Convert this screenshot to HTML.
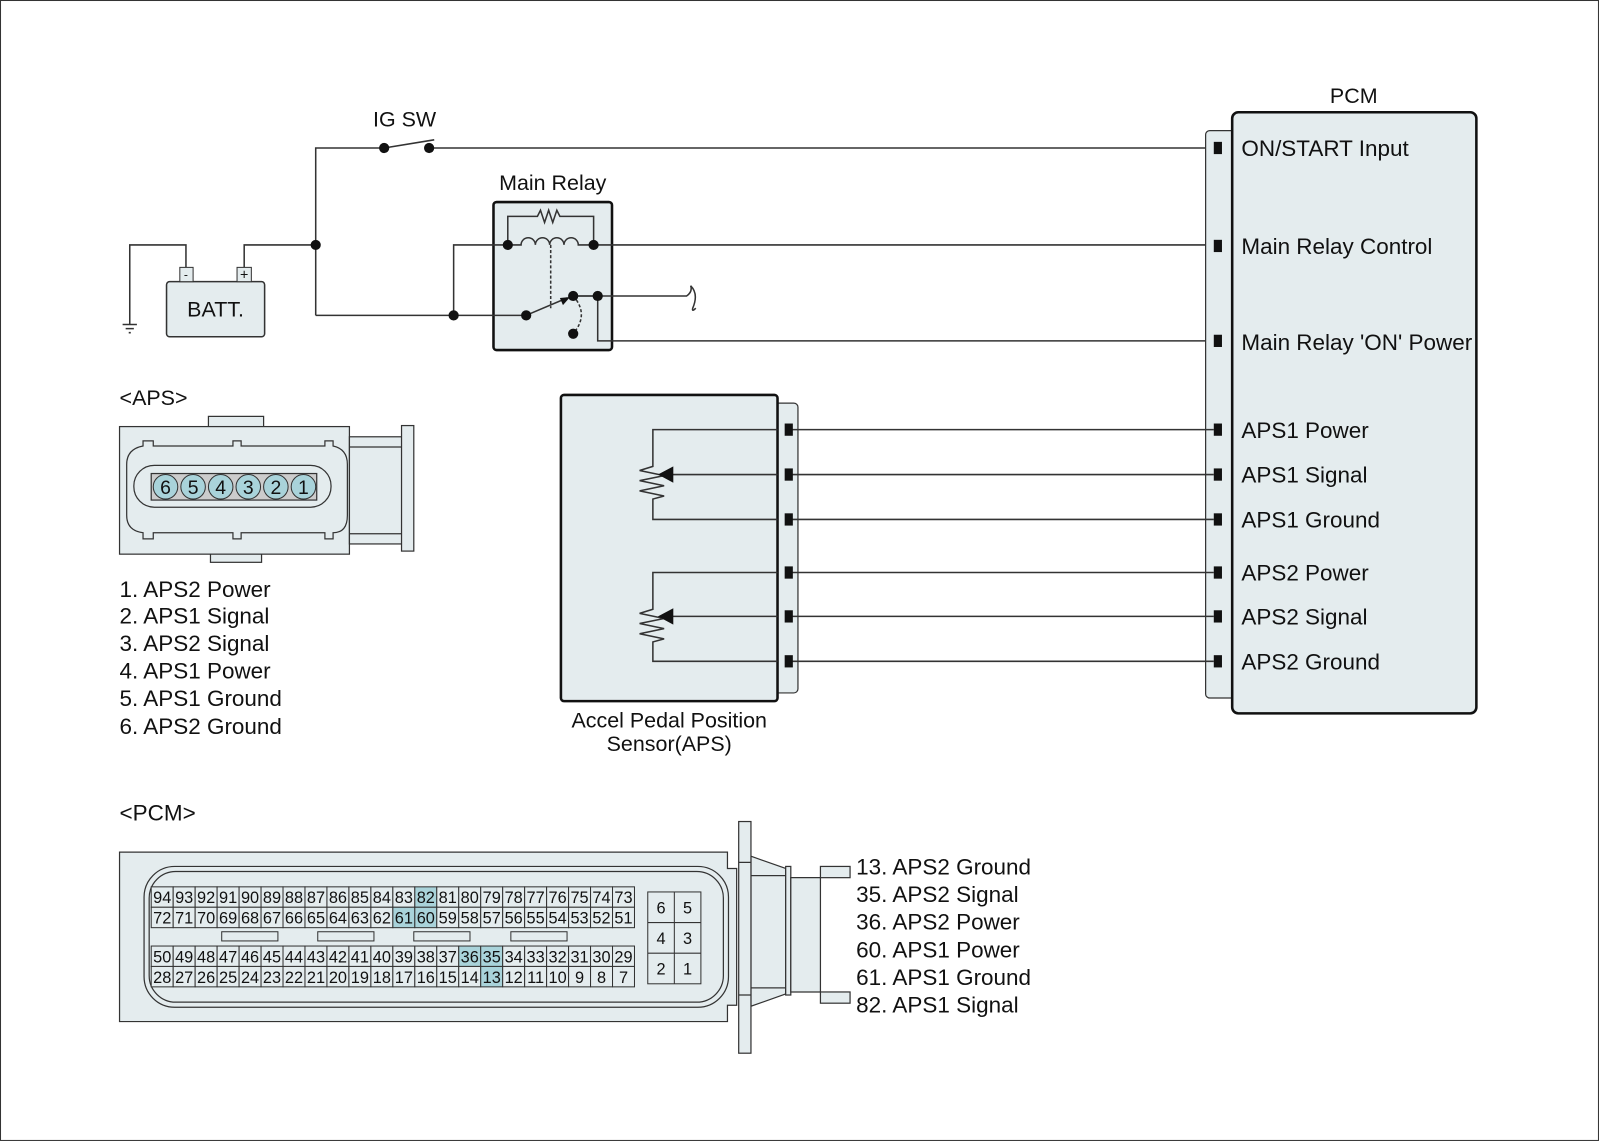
<!DOCTYPE html>
<html><head><meta charset="utf-8"><style>html,body{margin:0;padding:0;background:#fff}svg{display:block}text{font-family:"Liberation Sans",Arial,Helvetica,sans-serif;fill:#111}</style></head><body>
<svg width="1600" height="1143" viewBox="0 0 1566 1120" preserveAspectRatio="none" xmlns="http://www.w3.org/2000/svg">
<rect x="0.5" y="0.5" width="1564" height="1117" fill="#fff" stroke="#333" stroke-width="1"/>
<rect x="483" y="198" width="116" height="145" rx="3" fill="#e4ecee" stroke="#111" stroke-width="2.5"/>
<g stroke="#333" stroke-width="1.5" fill="none">
<path d="M309 309 V145 H376"/>
<path d="M420 145 H1188"/>
<path d="M376 145 L425 137"/>
<path d="M239 262 V240 H309"/>
<path d="M182 262 V240 H127 V318"/>
<path d="M120 318 H134 M123 322 H131 M126 326 H128"/>
<path d="M309 309 H515"/>
<path d="M444 309 V240 H497"/>
<path d="M581 240 H1188"/>
<path d="M561 290 H672 q6 -4 4 -10 q8 8 2 22 q-1 4 3 0"/>
<path d="M585 290 V334 H1188"/>
</g>
<rect x="163" y="276" width="96" height="54" rx="3" fill="#e4ecee" stroke="#333" stroke-width="1.5"/>
<rect x="176" y="262" width="13" height="14" fill="#e4ecee" stroke="#333"/>
<rect x="232" y="262" width="14" height="14" fill="#e4ecee" stroke="#333"/>
<text x="182" y="273" font-size="12" text-anchor="middle">-</text>
<text x="239" y="274" font-size="14" text-anchor="middle">+</text>
<text x="211" y="310" font-size="21" text-anchor="middle">BATT.</text>
<text x="396" y="124" font-size="21" text-anchor="middle">IG SW</text>
<text x="541" y="186" font-size="21" text-anchor="middle">Main Relay</text>
<g stroke="#333" stroke-width="1.5" fill="none">
<path d="M497 240 V212 H526 l3 -6 l4 12 l4 -12 l4 12 l4 -12 l3 6 H581 V240"/>
<path d="M497 240 H510 a7 7 0 0 1 14 0 a7 7 0 0 1 14 0 a7 7 0 0 1 14 0 a7 7 0 0 1 14 0 H581"/>
<path d="M539 240 V302" stroke-dasharray="3,2"/>
<path d="M561 290 q16 18 0 37" stroke-dasharray="3,2"/>
<path d="M561 290 H585"/>
<path d="M515 309 L555 292"/>
</g>
<path d="M558 291 L548 292 L551 299 Z" fill="#111"/>
<g fill="#111">
<circle cx="309" cy="240" r="5"/><circle cx="444" cy="309" r="5"/><circle cx="376" cy="145" r="5"/><circle cx="420" cy="145" r="5"/>
<circle cx="497" cy="240" r="5"/><circle cx="581" cy="240" r="5"/><circle cx="515" cy="309" r="5"/><circle cx="561" cy="290" r="5"/><circle cx="585" cy="290" r="5"/><circle cx="561" cy="327" r="5"/>
</g>
<text x="1325" y="101" font-size="21" text-anchor="middle">PCM</text>
<rect x="1180" y="128" width="30" height="556" rx="4" fill="#e4ecee" stroke="#333" stroke-width="1.2"/>
<rect x="1206" y="110" width="239" height="589" rx="6" fill="#e4ecee" stroke="#111" stroke-width="2.5"/>
<g font-size="22">
<text x="1215" y="153">ON/START Input</text>
<text x="1215" y="249">Main Relay Control</text>
<text x="1215" y="343">Main Relay 'ON' Power</text>
<text x="1215" y="429">APS1 Power</text>
<text x="1215" y="473">APS1 Signal</text>
<text x="1215" y="517">APS1 Ground</text>
<text x="1215" y="569">APS2 Power</text>
<text x="1215" y="612">APS2 Signal</text>
<text x="1215" y="656">APS2 Ground</text>
</g>
<rect x="757" y="395" width="24" height="284" rx="4" fill="#e4ecee" stroke="#333" stroke-width="1.2"/>
<rect x="549" y="387" width="212" height="300" rx="3" fill="#e4ecee" stroke="#111" stroke-width="2.5"/>
<g stroke="#333" stroke-width="1.5" fill="none">
<path d="M772 421 H1188 M772 465 H1188 M772 509 H1188 M772 561 H1188 M772 604 H1188 M772 648 H1188"/>
<path d="M761 421 H639 V457 l-13 4 l24 5 l-24 5 l24 5 l-24 5 l24 5 l-11 3 V509 H761"/>
<path d="M761 465 H658"/>
<path d="M761 561 H639 V597 l-13 4 l24 5 l-24 5 l24 5 l-24 5 l24 5 l-11 3 V648 H761"/>
<path d="M761 604 H658"/>
</g>
<path d="M644 465 L659 457 V473 Z M644 604 L659 596 V612 Z" fill="#111"/>
<g fill="#111">
<rect x="768" y="415" width="8" height="12"/><rect x="768" y="459" width="8" height="12"/><rect x="768" y="503" width="8" height="12"/><rect x="768" y="555" width="8" height="12"/><rect x="768" y="598" width="8" height="12"/><rect x="768" y="642" width="8" height="12"/>
<rect x="1188" y="139" width="8" height="12"/><rect x="1188" y="235" width="8" height="12"/><rect x="1188" y="328" width="8" height="12"/><rect x="1188" y="415" width="8" height="12"/><rect x="1188" y="459" width="8" height="12"/><rect x="1188" y="503" width="8" height="12"/><rect x="1188" y="555" width="8" height="12"/><rect x="1188" y="598" width="8" height="12"/><rect x="1188" y="642" width="8" height="12"/>
</g>
<text x="655" y="713" font-size="21" text-anchor="middle">Accel Pedal Position</text>
<text x="655" y="736" font-size="21" text-anchor="middle">Sensor(APS)</text>
<text x="117" y="397" font-size="21">&lt;APS&gt;</text>
<g fill="#e4ecee" stroke="#333" stroke-width="1.2">
<rect x="204" y="408" width="54" height="12"/>
<rect x="206" y="541" width="50" height="10"/>
<rect x="117" y="418" width="225" height="125"/>
<rect x="342" y="428" width="52" height="105"/>
<rect x="393" y="417" width="12" height="123"/>
<path d="M342 438 H393 M342 523 H393"/>
<path d="M140 432 H150 V437 H228 V432 H236 V437 H318 V432 H326 V437 Q340 440 340 455 V505 Q340 522 326 522 V528 H318 V522 H236 V528 H228 V522 H150 V528 H140 V522 Q124 520 124 505 V455 Q124 440 140 437 Z" fill="none"/>
<rect x="131" y="456" width="193" height="41" rx="20" fill="none"/>
<rect x="148" y="464" width="162" height="26" fill="#ccc"/>
</g>
<g fill="#a9d3da" stroke="#333" stroke-width="1">
<circle cx="162" cy="477" r="12"/><circle cx="189" cy="477" r="12"/><circle cx="216" cy="477" r="12"/><circle cx="243" cy="477" r="12"/><circle cx="270" cy="477" r="12"/><circle cx="297" cy="477" r="12"/>
</g>
<g font-size="19" text-anchor="middle">
<text x="162" y="484">6</text><text x="189" y="484">5</text><text x="216" y="484">4</text><text x="243" y="484">3</text><text x="270" y="484">2</text><text x="297" y="484">1</text>
</g>
<g font-size="22">
<text x="117" y="585">1. APS2 Power</text>
<text x="117" y="611">2. APS1 Signal</text>
<text x="117" y="638">3. APS2 Signal</text>
<text x="117" y="665">4. APS1 Power</text>
<text x="117" y="692">5. APS1 Ground</text>
<text x="117" y="719">6. APS2 Ground</text>
<text x="117" y="804">&lt;PCM&gt;</text>
<text x="838" y="857">13. APS2 Ground</text>
<text x="838" y="884">35. APS2 Signal</text>
<text x="838" y="911">36. APS2 Power</text>
<text x="838" y="938">60. APS1 Power</text>
<text x="838" y="965">61. APS1 Ground</text>
<text x="838" y="992">82. APS1 Signal</text>
</g>
<g fill="#e4ecee" stroke="#333" stroke-width="1.2">
<path d="M117 835 H712 V851 H721 V985 H712 V1001 H117 Z"/>
<rect x="141" y="849" width="572" height="138" rx="30" fill="none"/>
<rect x="146" y="854" width="562" height="128" rx="26" fill="none"/>
<path d="M735 839 L769 851 V974 L735 986 Z"/>
<rect x="735" y="858" width="34" height="110"/>
<rect x="769" y="849" width="5" height="126"/>
<path d="M774 860 H803 V972 H774 Z"/>
<rect x="803" y="849" width="29" height="11"/><rect x="803" y="972" width="29" height="11"/>
<rect x="723" y="805" width="12" height="227"/>
<path d="M723 845 H735 M723 975 H735"/>
</g>
<g id="grid" font-size="16" text-anchor="middle" stroke="#333" stroke-width="1"></g>
<g fill="#e4ecee" stroke="#333" stroke-width="1">
<rect x="217" y="913" width="55" height="9"/><rect x="311" y="913" width="55" height="9"/><rect x="405" y="913" width="55" height="9"/><rect x="500" y="913" width="55" height="9"/>
<rect x="634" y="874" width="52" height="90"/>
<path d="M660 874 V964 M634 904 H686 M634 934 H686"/>
</g>
<g font-size="16" text-anchor="middle">
<text x="647" y="895">6</text><text x="673" y="895">5</text><text x="647" y="925">4</text><text x="673" y="925">3</text><text x="647" y="955">2</text><text x="673" y="955">1</text>
</g>
<script>
(function(){
var g=document.getElementById('grid'),ns='http://www.w3.org/2000/svg';
var rows=[[869,94],[889,72],[927,50],[947,28]];
var hl={82:1,61:1,60:1,36:1,35:1,13:1};
var x0=148,w=21.5;
rows.forEach(function(r){
 for(var i=0;i<22;i++){
  var n=r[1]-i; if(n<1)break;
  var rc=document.createElementNS(ns,'rect');
  rc.setAttribute('x',x0+i*w);rc.setAttribute('y',r[0]);rc.setAttribute('width',w);rc.setAttribute('height',20);
  rc.setAttribute('fill',hl[n]?'#a9d3da':'#e4ecee');g.appendChild(rc);
  var t=document.createElementNS(ns,'text');
  t.setAttribute('x',x0+i*w+w/2);t.setAttribute('y',r[0]+16);t.setAttribute('stroke','none');t.setAttribute('fill','#111');
  t.textContent=n;g.appendChild(t);
 }
});
})();
</script>
</svg>
</body></html>
